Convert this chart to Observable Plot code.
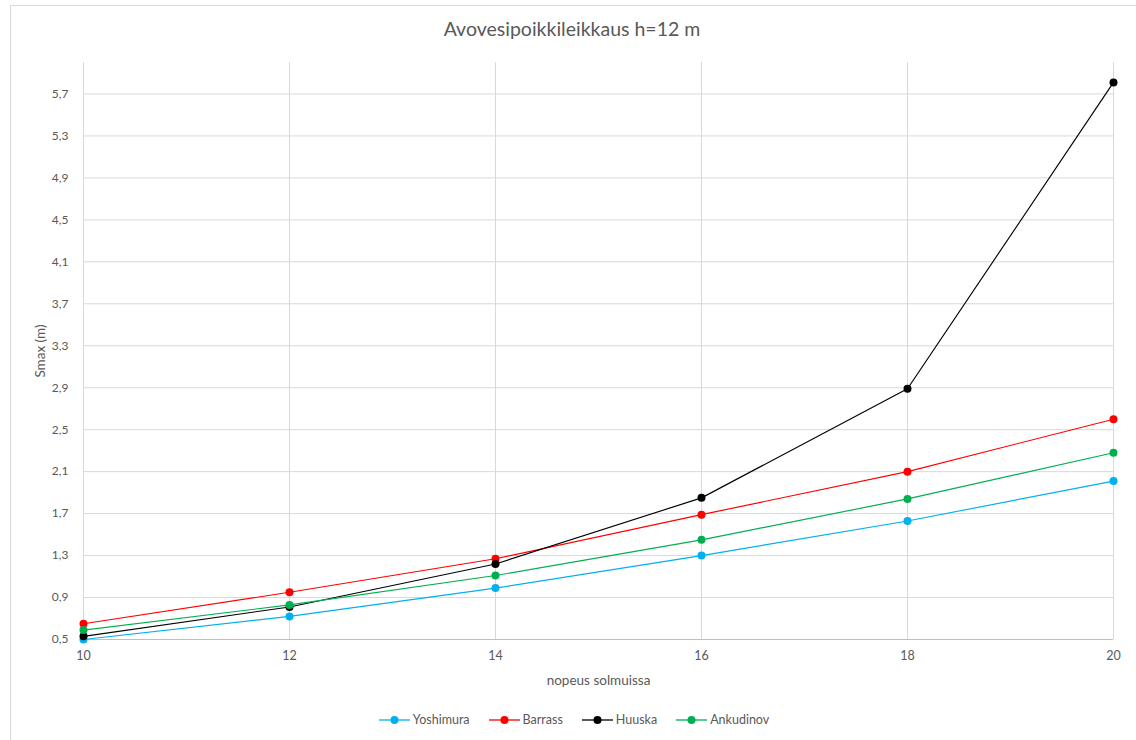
<!DOCTYPE html>
<html>
<head>
<meta charset="utf-8">
<script src="https://cdn.jsdelivr.net/npm/d3@7"></script>
<script src="https://cdn.jsdelivr.net/npm/@observablehq/plot@0.6"></script>
<style>
  body { margin: 0; background: #fff; font-family: Lato, "Open Sans", sans-serif; }
  #wrap { position: relative; width: 1136px; height: 740px; overflow: hidden; }
  #frame { position: absolute; left: 10px; top: 5px; width: 1300px; height: 900px;
           border-top: 1px solid #d9d9d9; border-left: 1px solid #d9d9d9; pointer-events: none; }
  #title { position: absolute; top: 17px; left: 4px; width: 1136px; text-align: center;
           font-size: 19.5px; color: #595959; }
  #chart { position: absolute; top: 50px; left: 0; }
  #legend { position: absolute; top: 712px; left: 6px; width: 1136px; display: flex;
            justify-content: center; gap: 19px; font-size: 12.5px; color: #595959; }
  .item { display: flex; align-items: center; gap: 3px; }
</style>
</head>
<body>
<div id="wrap">
  <div id="frame"></div>
  <div id="title">Avovesipoikkileikkaus h=12 m</div>
  <div id="chart"></div>
  <div id="legend"></div>
</div>
<script>
// Speed in knots (x) and maximum squat Smax in metres for each method
const speeds    = [10, 12, 14, 16, 18, 20];
const yoshimura = [0.50, 0.72, 0.99, 1.30, 1.63, 2.01];
const barrass   = [0.65, 0.95, 1.27, 1.69, 2.10, 2.60];
const huuska    = [0.53, 0.81, 1.22, 1.85, 2.89, 5.81];
const ankudinov = [0.59, 0.83, 1.11, 1.45, 1.84, 2.28];

const seriesNames  = ["Yoshimura", "Barrass", "Huuska", "Ankudinov"];
const seriesColors = ["#00b0f0", "#ff0000", "#000000", "#00b050"];
const yTicks = [0.5, 0.9, 1.3, 1.7, 2.1, 2.5, 2.9, 3.3, 3.7, 4.1, 4.5, 4.9, 5.3, 5.7];

const seriesValues = [yoshimura, barrass, huuska, ankudinov];
const rows = seriesNames.flatMap((name, i) =>
  speeds.map((s, j) => ({ series: name, speed: s, value: seriesValues[i][j] })));

const fmt = d => d.toFixed(1).replace(".", ",");
const textColor = "#595959";

const chart = Plot.plot({
  width: 1136,
  height: 650,
  marginLeft: 83,
  marginRight: 23,
  marginTop: 12,
  marginBottom: 61,
  style: { fontFamily: "Lato, 'Open Sans', sans-serif", fontSize: "12px", color: textColor, background: "transparent" },
  x: { domain: [10, 20] },
  y: { domain: [0.5, 6.0] },
  color: { domain: seriesNames, range: seriesColors },
  marks: [
    Plot.gridY(yTicks, { stroke: "#d9d9d9", strokeOpacity: 1 }),
    Plot.gridX(speeds, { stroke: "#d9d9d9", strokeOpacity: 1 }),
    Plot.ruleY([0.5], { stroke: "#bfbfbf" }),
    Plot.axisY(yTicks, { tickSize: 0, tickPadding: 15, tickFormat: fmt, fill: textColor,
      label: "Smax (m)", labelAnchor: "center", labelArrow: "none", labelOffset: 48 }),
    Plot.axisX(speeds, { tickSize: 0, tickPadding: 12, fill: textColor,
      label: "nopeus solmuissa", labelAnchor: "center", labelArrow: "none", labelOffset: 45,
      fontSize: 12.5 }),
    Plot.line(rows, { x: "speed", y: "value", z: "series", stroke: "series", strokeWidth: 1.15 }),
    Plot.dot(rows, { x: "speed", y: "value", fill: "series", r: 4 })
  ]
});
chart.querySelectorAll("[aria-label='y-axis label'] text, [aria-label='x-axis label'] text")
  .forEach(t => t.setAttribute("font-size", "13.5px"));
document.getElementById("chart").appendChild(chart);

// Legend row with line-and-marker swatches
const legend = d3.select("#legend");
seriesNames.forEach((name, i) => {
  const item = legend.append("div").attr("class", "item");
  const svg = item.append("svg").attr("width", 31).attr("height", 10);
  svg.append("line").attr("x1", 0).attr("x2", 31).attr("y1", 5).attr("y2", 5)
    .attr("stroke", seriesColors[i]).attr("stroke-width", 1.3);
  svg.append("circle").attr("cx", 15.5).attr("cy", 5).attr("r", 4).attr("fill", seriesColors[i]);
  item.append("span").text(name);
});
</script>
</body>
</html>
